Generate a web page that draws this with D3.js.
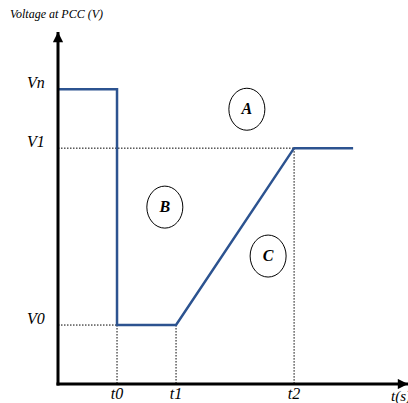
<!DOCTYPE html>
<meta charset="utf-8">
<script src="https://d3js.org/d3.v7.min.js"></script>
<style>
  body { margin: 0; background: #fff; }
  text { font-family: "Liberation Serif", "DejaVu Serif", serif; font-style: italic; }
</style>
<div id="my_dataviz"></div>
<script>
  // voltage profile (time units, voltage units)
  var times = [0, 1, 1, 2, 4, 5];
  var volts = [5, 5, 1, 1, 4, 4];
  var tickNames = ["t0", "t1", "t2"];
  var tickTimes = [1, 2, 4];
  var levelNames = ["Vn", "V1", "V0"];
  var levelValues = [5, 4, 1];
  var regionNames = ["A", "B", "C"];
  var regionT = [3.2, 1.81, 3.56];
  var regionV = [4.66, 3.0, 2.17];

  var width = 408, height = 403;

  var svg = d3.select("#my_dataviz")
    .append("svg")
      .attr("width", width)
      .attr("height", height);

  var x = d3.scaleLinear().domain([0, 5.93]).range([58, 408]);
  var y = d3.scaleLinear().domain([0, 5.97]).range([384, 32]);

  // dotted guides
  var guides = svg.append("g")
    .attr("stroke", "#000")
    .attr("stroke-width", 1)
    .attr("stroke-dasharray", "1.5,1.5");
  // horizontal ones for V1 and V0
  guides.append("line")
    .attr("x1", x(0)).attr("x2", x(4))
    .attr("y1", y(4)).attr("y2", y(4));
  guides.append("line")
    .attr("x1", x(0)).attr("x2", x(1))
    .attr("y1", y(1)).attr("y2", y(1));
  // vertical ones down to the axis
  guides.selectAll(".vg")
    .data(tickTimes)
    .enter().append("line")
      .attr("x1", d => x(d)).attr("x2", d => x(d))
      .attr("y1", d => y(d == 4 ? 4 : 1))
      .attr("y2", y(0));

  // the voltage curve
  var line = d3.line()
    .x((d, i) => x(times[i]))
    .y((d, i) => y(volts[i]));
  svg.append("path")
    .datum(volts)
    .attr("d", line)
    .attr("fill", "none")
    .attr("stroke", "#2c5390")
    .attr("stroke-width", 2.5)
    .attr("stroke-linejoin", "miter");

  // axes with arrow heads
  svg.append("defs").append("marker")
    .attr("id", "arrow")
    .attr("viewBox", "0 0 10 10")
    .attr("refX", 10).attr("refY", 5)
    .attr("markerWidth", 4).attr("markerHeight", 3.4)
    .attr("orient", "auto")
    .attr("markerUnits", "strokeWidth")
    .append("path")
      .attr("d", "M0,0L10,5L0,10z")
      .attr("fill", "#000");

  svg.append("line")
    .attr("x1", x(0)).attr("y1", y(0) + 1.5)
    .attr("x2", x(0)).attr("y2", y(5.97))
    .attr("stroke", "#000").attr("stroke-width", 3)
    .attr("marker-end", "url(#arrow)");
  svg.append("line")
    .attr("x1", x(0) - 1.5).attr("y1", y(0))
    .attr("x2", x(5.93)).attr("y2", y(0))
    .attr("stroke", "#000").attr("stroke-width", 3)
    .attr("marker-end", "url(#arrow)");

  // axis titles
  svg.append("text")
    .attr("x", 10).attr("y", 18)
    .attr("font-size", 12)
    .text("Voltage at PCC (V)");
  svg.append("text")
    .attr("x", 391).attr("y", 401)
    .attr("font-size", 15)
    .text("t(s)");

  // level labels
  svg.selectAll(".lvl")
    .data(levelValues)
    .enter().append("text")
      .attr("x", 27)
      .attr("y", d => y(d) - 1)
      .attr("font-size", 16)
      .text((d, i) => levelNames[i]);

  // time labels
  svg.selectAll(".tk")
    .data(tickTimes)
    .enter().append("text")
      .attr("x", d => x(d))
      .attr("y", 399)
      .attr("text-anchor", "middle")
      .attr("font-size", 16)
      .text((d, i) => tickNames[i]);

  // region markers
  var reg = svg.selectAll(".reg")
    .data(regionT)
    .enter().append("g")
      .attr("transform", (d, i) => "translate(" + x(d) + "," + y(regionV[i]) + ")");
  reg.append("ellipse")
    .attr("rx", 18).attr("ry", 21)
    .attr("fill", "none")
    .attr("stroke", "#000")
    .attr("stroke-width", 1);
  reg.append("text")
    .attr("y", 5)
    .attr("text-anchor", "middle")
    .attr("font-size", 16)
    .attr("font-weight", "bold")
    .text((d, i) => regionNames[i]);
</script>
